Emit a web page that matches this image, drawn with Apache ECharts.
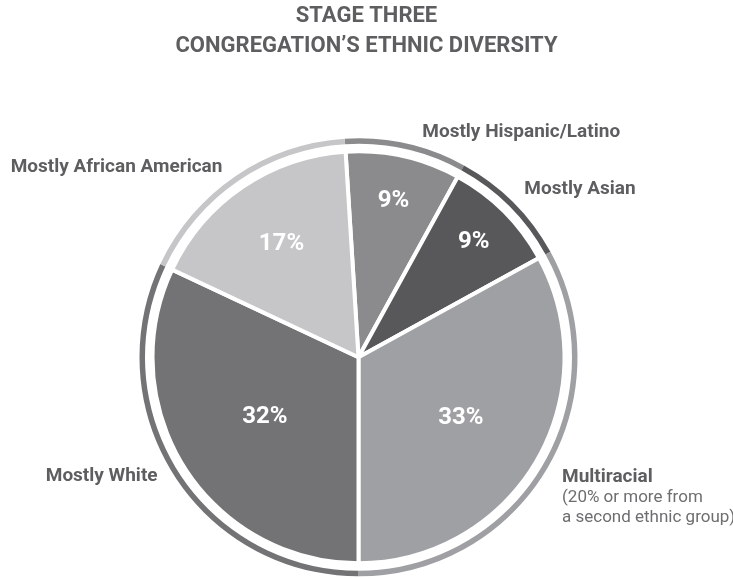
<!DOCTYPE html>
<html><head><meta charset="utf-8">
<script src="https://cdn.jsdelivr.net/npm/echarts@6/dist/echarts.min.js"></script>
<style>html,body{margin:0;padding:0;background:#fff}#chart{width:733px;height:578px}</style>
</head><body><div id="chart"></div>
<script>
// ---- data ----
const categories = ['Mostly Hispanic/Latino', 'Mostly Asian', 'Multiracial', 'Mostly White', 'Mostly African American'];
const shares = [9, 9, 33, 32, 17];
const notes = ['', '', '(20% or more from\na second ethnic group)', '', ''];
const titleLines = ['STAGE THREE', 'CONGREGATION\u2019S ETHNIC DIVERSITY'];

// ---- style / layout ----
const colors = ['#8b8b8e', '#58585b', '#9fa0a3', '#737376', '#c6c6c8'];
const textColor = '#5e5e60';
const noteColor = '#6e6e70';
const center = [358.5, 357.3];
const pieRadius = 206;
const ringRadius = [213.5, 219];
const startAngle = 93.6;
const valueLabelRadius = [157, 160, 116, 108, 134];
const nameNudge = [[1, -11], [-4, -13], [0, 28], [-1, 2], [2, -9]];
const FONT = 'Roboto';

const total = shares.reduce((a, b) => a + b, 0);
const midAngles = [];
(function () {
  let acc = 90 - startAngle;
  shares.forEach(v => { const a = v / total * 360; midAngles.push(acc + a / 2); acc += a; });
})();

const pieData = categories.map((c, i) => ({ name: c, value: shares[i], itemStyle: { color: colors[i] } }));

const chart = echarts.init(document.getElementById('chart'), null, { renderer: 'canvas' });
chart.setOption({
  animation: false,
  backgroundColor: '#ffffff',
  title: {
    text: titleLines.join('\n'),
    left: 'center',
    top: 1,
    padding: [0, 8, 0, 2],
    textStyle: { fontFamily: FONT, fontWeight: 'bold', fontSize: 22, lineHeight: 30, color: textColor }
  },
  series: [
    {
      type: 'pie',
      center: center,
      radius: [0, pieRadius],
      startAngle: startAngle,
      clockwise: true,
      avoidLabelOverlap: false,
      silent: true,
      data: pieData,
      itemStyle: { borderColor: '#ffffff', borderWidth: 4 },
      label: {
        show: true,
        position: 'inside',
        formatter: p => p.value + '%',
        color: '#ffffff',
        fontFamily: FONT,
        fontWeight: 'bold',
        fontSize: 24
      },
      labelLine: { show: false },
      labelLayout: function (p) {
        const i = p.dataIndex;
        const mid = midAngles[i] * Math.PI / 180;
        const extra = valueLabelRadius[i] - pieRadius / 2;
        return { dx: extra * Math.sin(mid), dy: -extra * Math.cos(mid) };
      }
    },
    {
      type: 'pie',
      center: center,
      radius: ringRadius,
      startAngle: startAngle,
      clockwise: true,
      avoidLabelOverlap: false,
      silent: true,
      data: pieData,
      itemStyle: { borderWidth: 0 },
      label: {
        show: true,
        position: 'outside',
        distanceToLabelLine: 5,
        formatter: p => {
          const note = notes[p.dataIndex];
          let s = '{b|' + p.name + '}';
          if (note) s += '\n' + note.split('\n').map(t => '{n|' + t + '}').join('\n');
          return s;
        },
        rich: {
          b: { fontFamily: FONT, fontWeight: 'bold', fontSize: 19, color: textColor, lineHeight: 21 },
          n: { fontFamily: FONT, fontWeight: 'normal', fontSize: 17, color: noteColor, lineHeight: 20 }
        }
      },
      labelLine: { show: false, length: 0, length2: 10 },
      labelLayout: function (p) {
        const n = nameNudge[p.dataIndex];
        return { dx: n[0], dy: n[1] };
      }
    }
  ]
});
</script>
</body></html>
